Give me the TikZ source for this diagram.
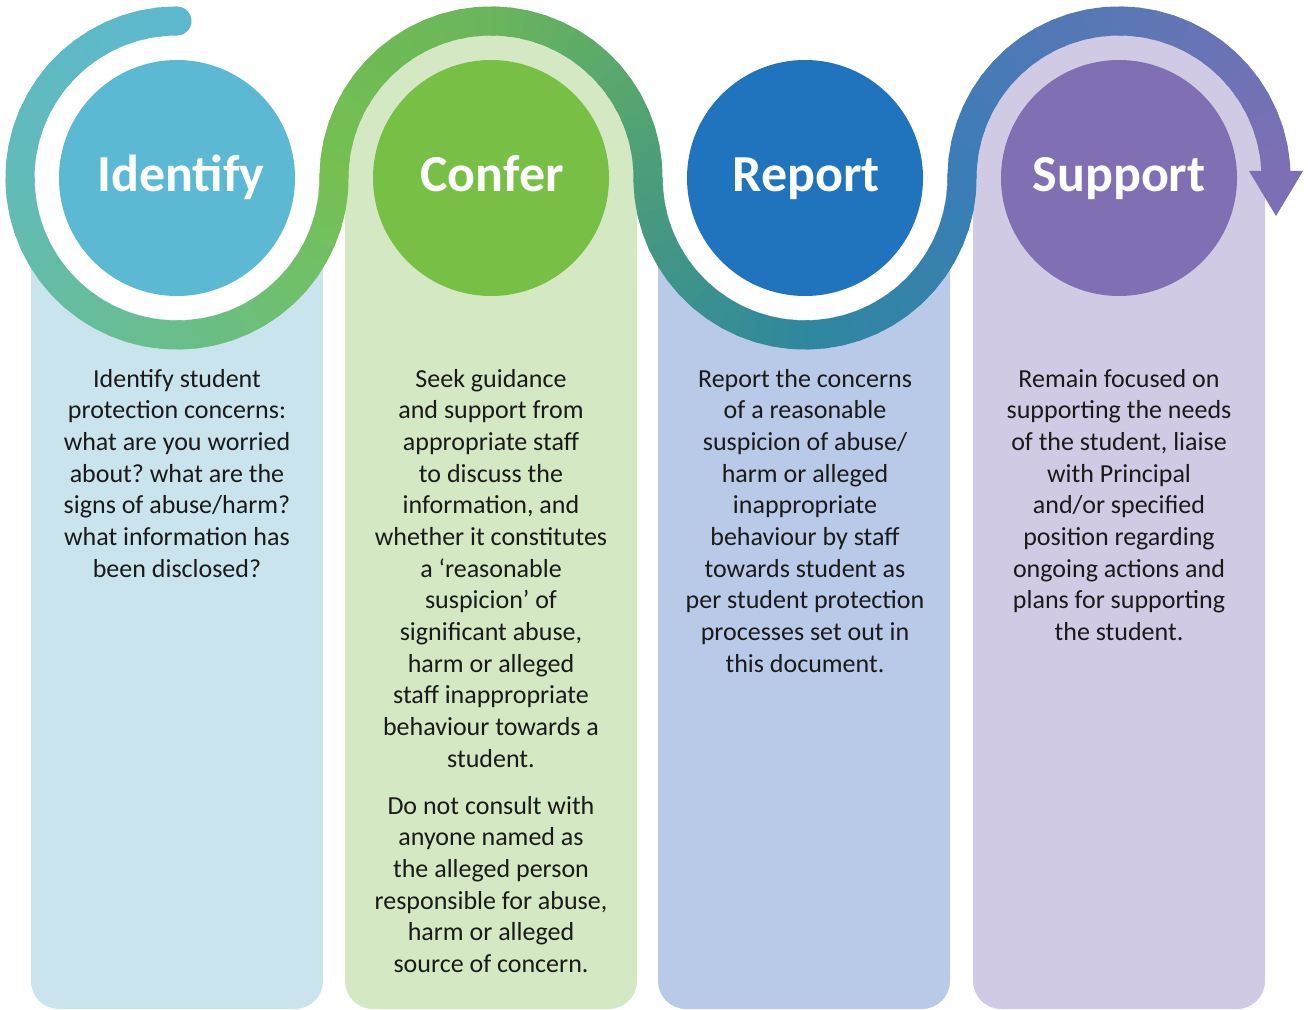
\documentclass[tikz,border=0pt]{standalone}
\usepackage{fontspec}
\setmainfont{Carlito}
\frenchspacing
\definecolor{colA}{HTML}{CAE4EE}
\definecolor{colB}{HTML}{D4E8C3}
\definecolor{colC}{HTML}{B9C9E8}
\definecolor{colD}{HTML}{D0CAE4}
\definecolor{cirA}{HTML}{5CB9D3}
\definecolor{cirB}{HTML}{78BF45}
\definecolor{cirC}{HTML}{1F74BD}
\definecolor{cirD}{HTML}{806FB3}
\definecolor{sA}{HTML}{5DB8CF}
\definecolor{sB}{HTML}{61BBB9}
\definecolor{sC}{HTML}{69BE8B}
\definecolor{sD}{HTML}{75C050}
\definecolor{sE}{HTML}{6BB55C}
\definecolor{sF}{HTML}{4B9D7B}
\definecolor{sG}{HTML}{2F879E}
\definecolor{sH}{HTML}{3A7DB7}
\definecolor{sI}{HTML}{5B77B5}
\definecolor{sJ}{HTML}{7E6FB4}
\definecolor{txt}{HTML}{1A1A1A}
\newcommand\bandarc[5]{%
  \foreach \i in {0,...,14}{%
    \pgfmathsetmacro\aa{#2+(#3-#2)*\i/15}%
    \pgfmathsetmacro\bb{#2+(#3-#2)*(\i+1.3)/15}%
    \pgfmathtruncatemacro\pp{round(100*(\i+0.5)/15)}%
    \draw[band, draw={#5!\pp!#4}] ([shift={(\aa:157)}]#1) arc[start angle=\aa, end angle=\bb, radius=157];
  }}
\begin{document}
\begin{tikzpicture}[x=0.75pt,y=0.75pt,
  band/.style={line width=21.75pt, line cap=butt},
  stepcircle/.style={circle, inner sep=0pt, minimum size=177pt},
  titletext/.style={text=white, font=\fontsize{39pt}{46pt}\selectfont\bfseries, anchor=base, inner sep=0pt},
  bodytext/.style={text=txt, font=\fontsize{19.5pt}{23.75pt}\selectfont, align=center, anchor=north, inner sep=0pt}]
\useasboundingbox (0,0) rectangle (1308,-1009);
\coordinate (c1) at (177,-178);
\coordinate (c2) at (491,-178);
\coordinate (c3) at (805,-178);
\coordinate (c4) at (1119,-178);
% columns
\fill[colA] (31,-178) [rounded corners=21] -- (31,-1009) -- (323,-1009) [sharp corners] -- (323,-178) -- cycle;
\fill[colB] (345,-178) [rounded corners=21] -- (345,-1009) -- (637,-1009) [sharp corners] -- (637,-178) arc[start angle=0, end angle=180, radius=146] -- cycle;
\fill[colC] (658,-178) [rounded corners=21] -- (658,-1009) -- (950,-1009) [sharp corners] -- (950,-178) -- cycle;
\fill[colD] (973,-178) [rounded corners=21] -- (973,-1009) -- (1265,-1009) [sharp corners] -- (1265,-178) arc[start angle=0, end angle=180, radius=146] -- cycle;
% white inner disks
\fill[white] (c1) circle[radius=142];
\fill[white] (c3) circle[radius=142];
% band
\fill[sA] (177,-21) circle[radius=14.5];
\bandarc{c1}{90}{180}{sA}{sB}
\bandarc{c1}{180}{270}{sB}{sC}
\bandarc{c1}{270}{360}{sC}{sD}
\bandarc{c2}{180}{90}{sD}{sE}
\bandarc{c2}{90}{0}{sE}{sF}
\bandarc{c3}{180}{270}{sF}{sG}
\bandarc{c3}{270}{360}{sG}{sH}
\bandarc{c4}{180}{90}{sH}{sI}
\bandarc{c4}{90}{0}{sI}{sJ}
\coordinate (tipL) at (1249,-171);
\coordinate (tipR) at (1303,-171);
\coordinate (tip) at (1276,-216);
\fill[sJ] (tipL) -- (tipR) -- (tip) -- cycle;
% circles
\node[stepcircle, fill=cirA] (n1) at (c1) {};
\node[stepcircle, fill=cirB] (n2) at (c2) {};
\node[stepcircle, fill=cirC] (n3) at (c3) {};
\node[stepcircle, fill=cirD] (n4) at (c4) {};
\node[titletext] (t1) at (181,-192) {Identify};
\node[titletext] (t2) at (492,-192) {Confer};
\node[titletext] (t3) at (806,-192) {Report};
\node[titletext] (t4) at (1119,-192) {Support};
% texts
\node[bodytext] (d1) at (177,-369) {Identify student\\protection concerns:\\what are you worried\\about? what are the\\signs of abuse/harm?\\what information has\\been disclosed?};
\node[bodytext] (d2) at (491,-369) {Seek guidance\\and support from\\appropriate staff\\to discuss the\\information, and\\whether it constitutes\\a ‘reasonable\\suspicion’ of\\significant abuse,\\harm or alleged\\staff inappropriate\\behaviour towards a\\student.\\[11.4pt]Do not consult with\\anyone named as\\the alleged person\\responsible for abuse,\\harm or alleged\\source of concern.};
\node[bodytext] (d3) at (805,-369) {Report the concerns\\of a reasonable\\suspicion of abuse/\\harm or alleged\\inappropriate\\behaviour by staff\\towards student as\\per student protection\\processes set out in\\this document.};
\node[bodytext] (d4) at (1119,-369) {Remain focused on\\supporting the needs\\of the student, liaise\\with Principal\\and/or specified\\position regarding\\ongoing actions and\\plans for supporting\\the student.};
\end{tikzpicture}
\end{document}
